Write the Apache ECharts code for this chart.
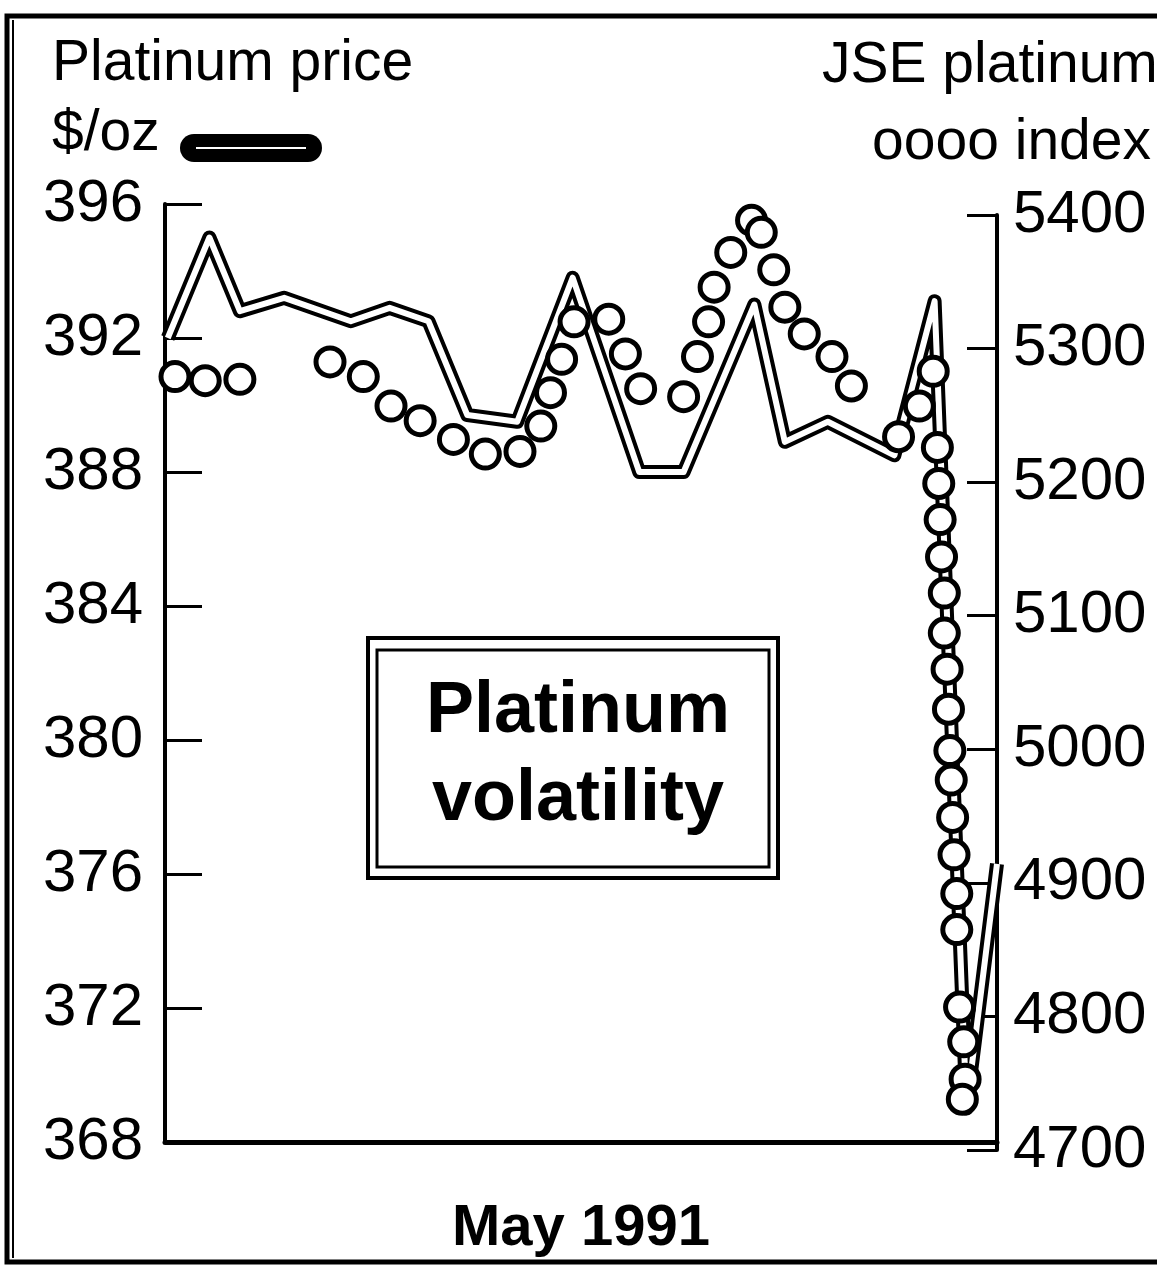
<!DOCTYPE html>
<html>
<head>
<meta charset="utf-8">
<title>Platinum volatility</title>
<script src="https://cdn.jsdelivr.net/npm/echarts@6/dist/echarts.min.js"></script>
<style>
html, body { margin: 0; padding: 0; background: #fff; }
#main { width: 1157px; height: 1269px; }
</style>
</head>
<body>
<div id="main"></div>
<script>
// Platinum price, $/oz (left scale), x = day position in May 1991
var priceDays = [0.1, 1.6, 2.7, 4.3, 6.7, 8.1, 9.5, 10.9, 12.7, 14.7, 17.1, 18.7, 21.25, 22.35, 23.9, 26.3, 27.75, 28.9, 30];
var priceValues = [392.0, 395.0, 392.8, 393.2, 392.5, 392.9, 392.5, 389.7, 389.5, 393.8, 388.0, 388.0, 393.0, 388.9, 389.5, 388.5, 393.1, 369.0, 376.3];

// JSE platinum index (right scale)
var indexDays = [0.36, 1.45, 2.7, 5.95, 7.15, 8.15, 9.2, 10.4, 11.55, 12.8, 13.55, 13.9, 14.3, 14.75, 16.0, 16.6, 17.15,
    18.7, 19.2, 19.6, 19.8, 20.4, 21.15, 21.5, 21.95, 22.35, 23.05, 24.05, 24.75, 26.45, 27.2, 27.7,
    27.85, 27.9, 27.95, 28.0, 28.1, 28.1, 28.2, 28.25, 28.3, 28.35, 28.4, 28.45, 28.55, 28.55, 28.65, 28.8, 28.85, 28.75];
var indexValues = [5279, 5276, 5277, 5290, 5279, 5257, 5246, 5232, 5221, 5223, 5242, 5267, 5292, 5320, 5322, 5296, 5270,
    5264, 5294, 5320, 5346, 5372, 5396, 5387, 5359, 5331, 5311, 5294, 5272, 5234, 5257, 5283,
    5226, 5199, 5172, 5144, 5117, 5087, 5060, 5030, 4999, 4977, 4949, 4921, 4892, 4865, 4807, 4781, 4753, 4738];

var priceTicks = [368, 372, 376, 380, 384, 388, 392, 396];
var indexTicks = [4700, 4800, 4900, 5000, 5100, 5200, 5300, 5400];

var FONT = '"Liberation Sans", Arial, sans-serif';

function pairs(xs, ys) {
    var out = [];
    for (var i = 0; i < xs.length; i++) {
        out.push([xs[i], ys[i]]);
    }
    return out;
}
var priceData = pairs(priceDays, priceValues);
var indexData = pairs(indexDays, indexValues);

var myChart = echarts.init(document.getElementById('main'));
myChart.setOption({
    animation: false,
    backgroundColor: '#fff',
    textStyle: { fontFamily: FONT, color: '#000' },
    grid: [
        { left: 165, right: 160, top: 204, bottom: 127, outerBoundsMode: 'none', containLabel: false },
        { left: 165, right: 160, top: 215, bottom: 119, outerBoundsMode: 'none', containLabel: false }
    ],
    xAxis: [{
        gridIndex: 0,
        type: 'value',
        min: 0,
        max: 30,
        axisLine: { onZero: false, lineStyle: { color: '#000', width: 5 } },
        axisTick: { show: false },
        axisLabel: { show: false },
        splitLine: { show: false },
        name: 'May 1991',
        nameLocation: 'middle',
        nameGap: 58,
        nameTextStyle: { fontSize: 58, fontWeight: 'bold', color: '#000', fontFamily: FONT }
    }, {
        gridIndex: 1,
        type: 'value',
        min: 0,
        max: 30,
        show: false
    }],
    yAxis: [{
        gridIndex: 0,
        type: 'value',
        position: 'left',
        min: priceTicks[0],
        max: priceTicks[priceTicks.length - 1],
        interval: priceTicks[1] - priceTicks[0],
        axisLine: { show: true, onZero: false, lineStyle: { color: '#000', width: 4 } },
        axisTick: { show: true, inside: true, length: 37, lineStyle: { color: '#000', width: 3 } },
        axisLabel: { margin: 22, fontSize: 60, color: '#000', fontFamily: FONT },
        splitLine: { show: false }
    }, {
        gridIndex: 1,
        type: 'value',
        position: 'right',
        min: indexTicks[0],
        max: indexTicks[indexTicks.length - 1],
        interval: indexTicks[1] - indexTicks[0],
        axisLine: { show: true, onZero: false, lineStyle: { color: '#000', width: 4 } },
        axisTick: { show: true, inside: true, length: 30, lineStyle: { color: '#000', width: 3 } },
        axisLabel: {
            margin: 16, fontSize: 60, color: '#000', fontFamily: FONT,
            formatter: function (v) { return String(v); }
        },
        splitLine: { show: false }
    }],
    series: [{
        // outer strokes of the double line
        name: 'Platinum price',
        type: 'line',
        xAxisIndex: 0,
        yAxisIndex: 0,
        data: priceData,
        symbol: 'none',
        silent: true,
        clip: false,
        lineStyle: { color: '#000', width: 14, join: 'round' },
        z: 2
    }, {
        name: 'Platinum price core',
        type: 'line',
        xAxisIndex: 0,
        yAxisIndex: 0,
        data: priceData,
        symbol: 'none',
        silent: true,
        clip: false,
        lineStyle: { color: '#fff', width: 6, join: 'round' },
        z: 3
    }, {
        name: 'JSE platinum index',
        type: 'scatter',
        xAxisIndex: 1,
        yAxisIndex: 1,
        data: indexData,
        symbol: 'circle',
        symbolSize: 28,
        clip: false,
        itemStyle: { color: '#fff', borderColor: '#000', borderWidth: 5, opacity: 1 },
        z: 4
    }],
    graphic: [
        // frame
        { type: 'rect', shape: { x: 7, y: 16, width: 1175, height: 1246 },
          style: { fill: null, stroke: '#000', lineWidth: 5 }, silent: true },
        { type: 'line', shape: { x1: 13, y1: 20, x2: 13, y2: 1258 },
          style: { stroke: '#000', lineWidth: 2 }, silent: true },
        // headings
        { type: 'text', left: 52, top: 36,
          style: { text: 'Platinum price', fontSize: 57, fontFamily: FONT, fill: '#000' } },
        { type: 'text', left: 52, top: 106,
          style: { text: '$/oz', fontSize: 57, fontFamily: FONT, fill: '#000' } },
        { type: 'rect', shape: { x: 180, y: 134, width: 142, height: 28, r: 14 },
          style: { fill: '#000' }, silent: true },
        { type: 'line', shape: { x1: 196, y1: 148, x2: 306, y2: 148 },
          style: { stroke: '#fff', lineWidth: 2 }, silent: true },
        { type: 'text', left: 822, top: 38,
          style: { text: 'JSE platinum', fontSize: 57, fontFamily: FONT, fill: '#000' } },
        { type: 'text', right: 6, top: 115,
          style: { text: 'oooo index', fontSize: 57, fontFamily: FONT, fill: '#000' } },
        // annotation box
        { type: 'rect', shape: { x: 368, y: 638, width: 410, height: 240 },
          style: { fill: '#fff', stroke: '#000', lineWidth: 4 }, z: 10 },
        { type: 'rect', shape: { x: 377, y: 650, width: 392, height: 217 },
          style: { fill: null, stroke: '#000', lineWidth: 3 }, z: 11 },
        { type: 'text', x: 578, y: 712, z: 12,
          style: { text: 'Platinum', fontSize: 72, fontWeight: 'bold', fontFamily: FONT, fill: '#000',
                   align: 'center', verticalAlign: 'middle' } },
        { type: 'text', x: 578, y: 800, z: 12,
          style: { text: 'volatility', fontSize: 72, fontWeight: 'bold', fontFamily: FONT, fill: '#000',
                   align: 'center', verticalAlign: 'middle' } }
    ]
});
</script>
</body>
</html>
